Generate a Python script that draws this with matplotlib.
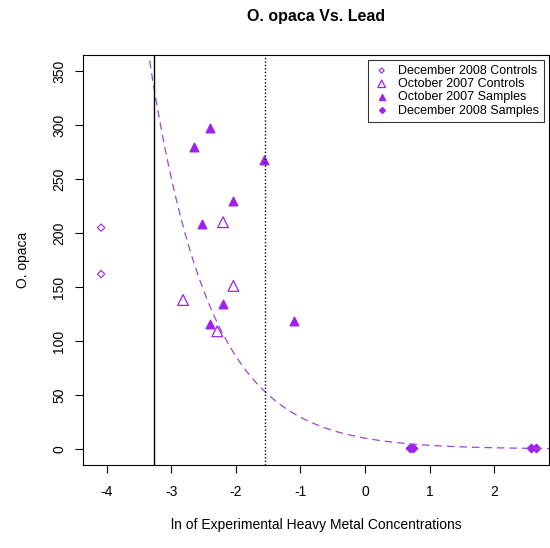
import numpy as np
import matplotlib.pyplot as plt

plt.rcParams['font.family'] = ['Liberation Sans', 'DejaVu Sans']
plt.rcParams['axes.unicode_minus'] = False

# December 2008 Controls (open diamonds)
dec08_ctrl_x = [-4.09, -4.09]
dec08_ctrl_y = [205, 162]
# October 2007 Controls (open triangles)
oct07_ctrl_x = [-2.82, -2.20, -2.04, -2.29]
oct07_ctrl_y = [138, 210, 151, 109]
# October 2007 Samples (filled triangles)
oct07_samp_x = [-2.40, -2.65, -1.56, -2.04, -2.52, -2.20, -2.40, -1.10]
oct07_samp_y = [297, 280, 268, 230, 208, 134, 116, 119]
# December 2008 Samples (filled diamonds)
dec08_samp_x = [0.69, 0.74, 2.58, 2.65]
dec08_samp_y = [1, 1, 1, 1]

# fitted exponential decay y = A * exp(-B * x)
fit_a = 10.1
fit_b = 1.07
solid_line_x = -3.27
dotted_line_x = -1.55

purple = '#A020F0'

fig = plt.figure(figsize=(5.5, 5.48), dpi=100)
ax = fig.add_axes([0.151, 0.151, 0.847, 0.749])

ax.scatter(dec08_ctrl_x, dec08_ctrl_y, marker='D', s=14, facecolors='none',
           edgecolors=purple, linewidths=0.8, label='December 2008 Controls')
ax.scatter(oct07_ctrl_x, oct07_ctrl_y, marker='^', s=60, facecolors='none',
           edgecolors=purple, linewidths=0.9, label='October 2007 Controls')
ax.scatter(oct07_samp_x, oct07_samp_y, marker='^', s=38, color=purple,
           label='October 2007 Samples')
ax.scatter(dec08_samp_x, dec08_samp_y, marker='D', s=18, color=purple,
           label='December 2008 Samples')

xs = np.linspace(-4.5, 3.0, 300)
ax.plot(xs, fit_a * np.exp(-fit_b * xs), linestyle=(0, (6, 4)), color='#9F45D6',
        linewidth=0.9)

ax.axvline(solid_line_x, color='black', linewidth=1)
ax.axvline(dotted_line_x, color='black', linewidth=1, linestyle=(0, (1, 1.5)))

ax.set_xlim(-4.37, 2.85)
ax.set_ylim(-15, 365)
ax.set_xticks([-4, -3, -2, -1, 0, 1, 2])
ax.set_yticks([0, 50, 100, 150, 200, 250, 300, 350])
ax.tick_params(axis='both', length=6, labelsize=10, direction='out')
ax.tick_params(axis='x', pad=8)
ax.tick_params(axis='y', pad=6)
plt.setp(ax.get_yticklabels(), rotation=90, va='center')

ax.set_title('O. opaca Vs. Lead', fontsize=11.5, fontweight='bold', pad=24)
ax.set_xlabel('ln of Experimental Heavy Metal Concentrations', fontsize=10, labelpad=14)
ax.set_ylabel('O. opaca', fontsize=10, labelpad=16)

leg = ax.legend(loc='upper right', fontsize=9, frameon=True, fancybox=False,
                edgecolor='black', handletextpad=0.6, borderpad=0.4,
                labelspacing=0.1, handlelength=1.4, borderaxespad=0.4,
                markerscale=0.7)
leg.get_frame().set_linewidth(0.8)

fig.savefig('out.png', dpi=100)
